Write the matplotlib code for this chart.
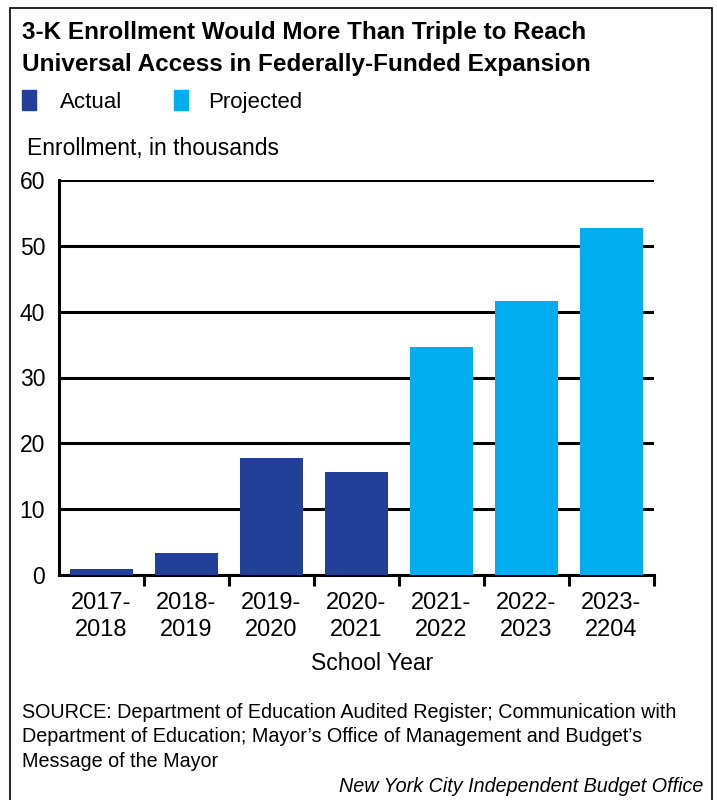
import matplotlib.pyplot as plt
import numpy as np
from matplotlib.patches import Rectangle

# data
years = ['2017-\n2018', '2018-\n2019', '2019-\n2020', '2020-\n2021',
         '2021-\n2022', '2022-\n2023', '2023-\n2204']
enrollment = [0.9, 3.4, 17.7, 15.6, 34.6, 41.6, 52.7]
status = ['Actual', 'Actual', 'Actual', 'Actual', 'Projected', 'Projected', 'Projected']

col_actual = '#22409a'
col_proj = '#00aeef'
narrow = ['Liberation Sans', 'DejaVu Sans']
wide = ['Liberation Sans', 'DejaVu Sans']

fig = plt.figure(figsize=(7.17, 8), dpi=100)
ax = fig.add_axes([0.0823, 0.28125, 0.8297, 0.49375])

colors = [col_actual if s == 'Actual' else col_proj for s in status]
x = np.arange(len(years))
ax.bar(x, enrollment, width=0.74, color=colors, zorder=3)

ax.set_xlim(-0.5, len(years) - 0.5)
ax.set_ylim(0, 60)
ax.set_yticks(range(0, 61, 10))
ax.yaxis.grid(True, color='black', linewidth=2.2, zorder=1)
ax.set_axisbelow(True)
for s in ['top', 'right']:
    ax.spines[s].set_visible(False)
for s in ['left', 'bottom']:
    ax.spines[s].set_linewidth(2.2)
ax.tick_params(axis='y', length=0, pad=10)
ax.set_xticks(x)
ax.set_xticklabels(years, linespacing=1.3)
ax.tick_params(axis='x', length=0, pad=12)
ax.set_xticks(np.arange(0.5, len(years)), minor=True)
ax.tick_params(axis='x', which='minor', length=8, width=2.2, direction='out')
for lab in ax.get_xticklabels():
    lab.set_family(wide)
    lab.set_fontsize(17)
for lab in ax.get_yticklabels():
    lab.set_family(wide)
    lab.set_fontsize(16.5)

# frame round the whole graphic
fig.patches.append(Rectangle((10 / 717, -0.01), 702 / 717, 1 - 8 / 800 + 0.01,
                             transform=fig.transFigure, fill=False,
                             edgecolor='black', linewidth=1.2))

fig.text(22 / 717, 1 - 33 / 800, '3-K Enrollment Would More Than Triple to Reach',
         family=narrow, fontsize=17.5, fontweight='bold', va='center')
fig.text(22 / 717, 1 - 64 / 800, 'Universal Access in Federally-Funded Expansion',
         family=narrow, fontsize=17.5, fontweight='bold', va='center')

fig.patches.append(Rectangle((22 / 717, 1 - 110 / 800), 14 / 717, 20 / 800,
                             transform=fig.transFigure, color=col_actual))
fig.text(60 / 717, 1 - 108 / 800, 'Actual', family=narrow, fontsize=16, va='baseline')
fig.patches.append(Rectangle((174 / 717, 1 - 110 / 800), 14 / 717, 20 / 800,
                             transform=fig.transFigure, color=col_proj))
fig.text(208 / 717, 1 - 108 / 800, 'Projected', family=narrow, fontsize=16, va='baseline')

fig.text(27 / 717, 1 - 149 / 800, 'Enrollment, in thousands', family=narrow,
         fontsize=16.5, va='center')
fig.text(372 / 717, 1 - 664 / 800, 'School Year', family=narrow, fontsize=16.5,
         va='center', ha='center')

fig.text(22 / 717, 1 - 703 / 800,
         'SOURCE: Department of Education Audited Register; Communication with\n'
         'Department of Education; Mayor\u2019s Office of Management and Budget\u2019s\n'
         'Message of the Mayor',
         family=narrow, fontsize=14.2, va='top', linespacing=1.36)
fig.text(703 / 717, 1 - 787 / 800, 'New York City Independent Budget Office',
         family=narrow, fontsize=14.2, style='italic', va='center', ha='right')

fig.savefig('out.png', dpi=100)
